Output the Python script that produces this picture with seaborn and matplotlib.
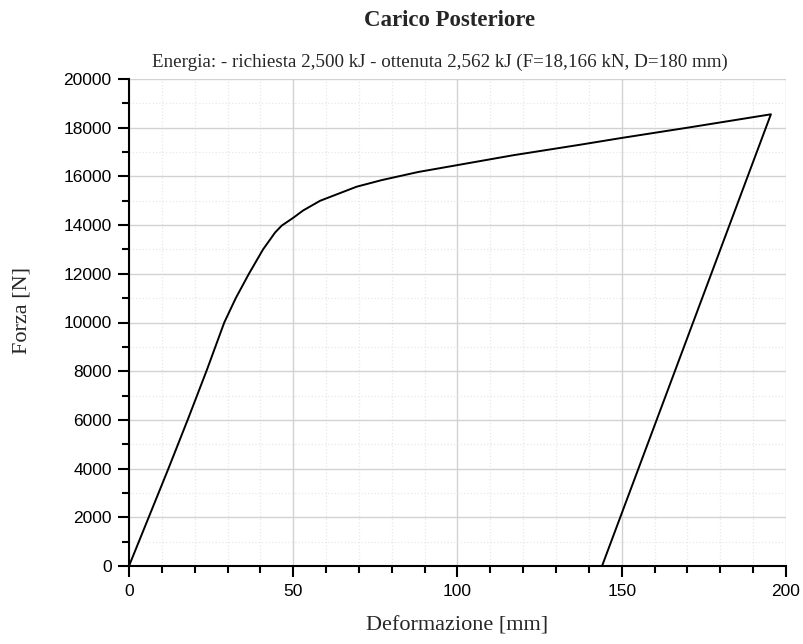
import numpy as np
import pandas as pd
import matplotlib
matplotlib.use("Agg")
import matplotlib.pyplot as plt
from matplotlib.ticker import MultipleLocator
import seaborn as sns

# Curva forza-deformazione (carico + scarico)
deformazione = [0, 6.0, 12.0, 18.0, 23.7, 29.0, 32.5, 36.5, 40.8, 44.5, 46.5, 50, 53,
                58.2, 63, 69.3, 77, 88, 99.8, 117, 137.3, 150, 170, 195.4, 144]
forza = [0, 2000, 4000, 6050, 8050, 10000, 11000, 12000, 13000, 13700, 13980, 14300,
         14600, 15000, 15250, 15577, 15850, 16180, 16460, 16870, 17300, 17580, 18000,
         18550, 0]

titolo = "Carico Posteriore"
sottotitolo = "Energia: - richiesta 2,500 kJ - ottenuta 2,562 kJ (F=18,166 kN, D=180 mm)"

df = pd.DataFrame({"Deformazione": deformazione, "Forza": forza})

sns.set_theme(style="white")
plt.rcParams['font.family'] = ['Liberation Sans', 'DejaVu Sans']

fig = plt.figure(figsize=(8.04, 6.44), dpi=100)
ax = fig.add_axes([129/804, 1 - 566/644, (786 - 129)/804, (566 - 79)/644])

sns.lineplot(data=df, x="Deformazione", y="Forza", sort=False, estimator=None,
             color="black", linewidth=1.4, ax=ax)

ax.set_xlim(0, 200)
ax.set_ylim(0, 20000)
ax.xaxis.set_major_locator(MultipleLocator(50))
ax.xaxis.set_minor_locator(MultipleLocator(10))
ax.yaxis.set_major_locator(MultipleLocator(2000))
ax.yaxis.set_minor_locator(MultipleLocator(1000))

ax.grid(True, which="major", color="#d2d2d2", linewidth=1.0, linestyle="-")
ax.grid(True, which="minor", color="#e8e8e8", linewidth=0.9, linestyle=":")
ax.set_axisbelow(True)

for s in ["top", "right"]:
    ax.spines[s].set_visible(False)
for s in ["left", "bottom"]:
    ax.spines[s].set_color("black")
    ax.spines[s].set_linewidth(1.5)

ax.tick_params(which="major", direction="out", length=8, width=1.5, color="black",
               labelsize=12.5, labelcolor="black", left=True, bottom=True)
ax.tick_params(axis="x", which="major", pad=5)
ax.tick_params(axis="y", which="major", pad=4.5)
ax.tick_params(which="minor", direction="out", length=5, width=1.5, color="black",
               left=True, bottom=True)

ax.set_xlabel("Deformazione [mm]", family="Liberation Serif", fontsize=16, va="center")
ax.set_ylabel("Forza [N]", family="Liberation Serif", fontsize=16, va="center")
ax.xaxis.set_label_coords(0.5, (566 - 626) / 487)
ax.yaxis.set_label_coords((22 - 129) / 657, (566 - 310) / 487)

fig.text(450/804, 1 - 20/644, titolo, family="Liberation Serif", fontweight="bold",
         fontsize=16.5, ha="center", va="center")
fig.text(440/804, 1 - 62/644, sottotitolo, family="Liberation Serif",
         fontsize=13.7, ha="center", va="center")

fig.savefig("out.png", dpi=100, facecolor="white")
